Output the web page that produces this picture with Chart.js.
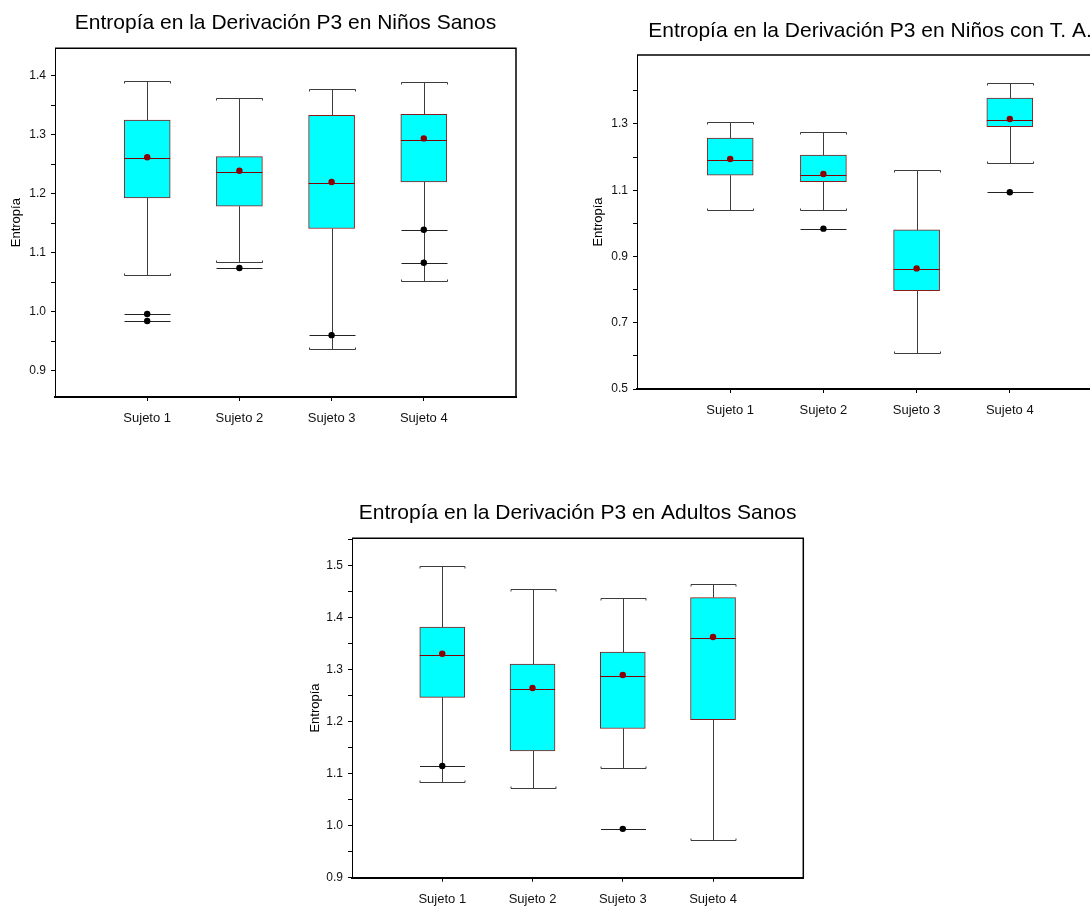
<!DOCTYPE html>
<html lang="es">
<head>
<meta charset="UTF-8">
<title>Entropía en la Derivación P3</title>
<script src="https://cdn.jsdelivr.net/npm/chart.js@4.4.1/dist/chart.umd.min.js"></script>
<style>
    html, body { margin: 0; padding: 0; background: #fff; }
    body { position: relative; width: 1090px; height: 906px; overflow: hidden; }
    canvas { position: absolute; }
</style>
</head>
<body>
<canvas id="c1"></canvas>
<canvas id="c2"></canvas>
<canvas id="c3"></canvas>

<script>
// categorias comunes
const sujetos = ['Sujeto 1', 'Sujeto 2', 'Sujeto 3', 'Sujeto 4'];

// Niños Sanos
const sanosLow     = [1.062, 1.085, 0.937, 1.052];
const sanosQ1      = [1.193, 1.179, 1.141, 1.220];
const sanosMedian  = [1.260, 1.237, 1.218, 1.292];
const sanosQ3      = [1.325, 1.263, 1.333, 1.335];
const sanosHigh    = [1.392, 1.363, 1.378, 1.390];
const sanosMean    = [1.262, 1.239, 1.220, 1.294];
const sanosOutliers = [[0.996, 0.984], [1.074], [0.960], [1.139, 1.083]];
const sanosMajor = [0.9, 1.0, 1.1, 1.2, 1.3, 1.4];
const sanosMinor = [0.95, 1.05, 1.15, 1.25, 1.35];

// Niños con T. A.
const taLow     = [1.040, 1.040, 0.610, 1.182];
const taQ1      = [1.145, 1.126, 0.797, 1.292];
const taMedian  = [1.190, 1.146, 0.861, 1.311];
const taQ3      = [1.257, 1.206, 0.980, 1.378];
const taHigh    = [1.306, 1.277, 1.161, 1.424];
const taMean    = [1.194, 1.149, 0.864, 1.315];
const taOutliers = [[], [0.984], [], [1.094]];
const taMajor = [0.5, 0.7, 0.9, 1.1, 1.3];
const taMinor = [0.6, 0.8, 1.0, 1.2, 1.4];

// Adultos Sanos
const adLow     = [1.085, 1.072, 1.111, 0.973];
const adQ1      = [1.247, 1.144, 1.187, 1.204];
const adMedian  = [1.329, 1.263, 1.288, 1.361];
const adQ3      = [1.382, 1.311, 1.334, 1.439];
const adHigh    = [1.500, 1.455, 1.438, 1.465];
const adMean    = [1.331, 1.265, 1.290, 1.363];
const adOutliers = [[1.115], [], [0.994], []];
const adMajor = [0.9, 1.0, 1.1, 1.2, 1.3, 1.4, 1.5];
const adMinor = [0.95, 1.05, 1.15, 1.25, 1.35, 1.45, 1.55];

const FONT = "'Liberation Sans', Arial, Helvetica, sans-serif";
Chart.defaults.font.family = FONT;

// bigotes, medianas y marco (dibujados con las escalas del grafico)
function boxExtras(s, boxW) {
    const half = boxW / 2;
    return {
        id: 'boxExtras',
        beforeDatasetsDraw(chart) {
            const { ctx, chartArea: a, scales: { x, y } } = chart;
            ctx.save();
            // marco superior y derecho
            ctx.strokeStyle = '#000';
            ctx.lineWidth = 1.5;
            ctx.beginPath();
            ctx.moveTo(a.left, a.top);
            ctx.lineTo(a.right, a.top);
            ctx.lineTo(a.right, a.bottom);
            ctx.stroke();

            ctx.lineWidth = 1;
            s.low.forEach((lo, i) => {
                const cx = Math.round(x.getPixelForValue(i + 1)) + 0.5;
                const l = cx - half, r = cx + half;
                const yHi = Math.round(y.getPixelForValue(s.high[i])) + 0.5;
                const yLo = Math.round(y.getPixelForValue(lo)) + 0.5;
                const yQ3 = y.getPixelForValue(s.q3[i]);
                const yQ1 = y.getPixelForValue(s.q1[i]);
                ctx.strokeStyle = '#3c3c3c';
                ctx.beginPath();
                ctx.moveTo(cx, yHi); ctx.lineTo(cx, yQ3);
                ctx.moveTo(cx, yQ1); ctx.lineTo(cx, yLo);
                // topes
                ctx.moveTo(l, yHi + 2); ctx.lineTo(l, yHi); ctx.lineTo(r, yHi); ctx.lineTo(r, yHi + 2);
                ctx.moveTo(l, yLo - 2); ctx.lineTo(l, yLo); ctx.lineTo(r, yLo); ctx.lineTo(r, yLo - 2);
                ctx.stroke();
                // lineas de valores atipicos
                ctx.strokeStyle = '#222';
                ctx.beginPath();
                s.outliers[i].forEach(v => {
                    const yo = Math.round(y.getPixelForValue(v)) + 0.5;
                    ctx.moveTo(l, yo); ctx.lineTo(r, yo);
                });
                ctx.stroke();
            });
            ctx.restore();
        },
        afterDatasetDraw(chart, args) {
            if (args.index !== 0) return;
            const { ctx, scales: { x, y } } = chart;
            ctx.save();
            ctx.strokeStyle = '#800000';
            ctx.lineWidth = 1.2;
            ctx.beginPath();
            s.median.forEach((m, i) => {
                const cx = x.getPixelForValue(i + 1);
                const ym = Math.round(y.getPixelForValue(m)) + 0.5;
                ctx.moveTo(cx - half, ym); ctx.lineTo(cx + half, ym);
            });
            ctx.stroke();
            ctx.restore();
        }
    };
}

function makePanel(id, p, s) {
    const canvas = document.getElementById(id);
    canvas.width = p.w; canvas.height = p.h;
    canvas.style.left = p.left + 'px';
    canvas.style.top = p.top + 'px';

    const xLabels = [''].concat(sujetos, ['']);
    const ticks = s.major.concat(s.minor).sort((a, b) => a - b);
    const isMajor = v => s.major.some(m => Math.abs(m - v) < 1e-6);

    return new Chart(canvas, {
        type: 'bar',
        data: {
            labels: xLabels,
            datasets: [{
                data: [null].concat(s.q1.map((q, i) => [q, s.q3[i]]), [null]),
                backgroundColor: '#00ffff',
                borderColor: '#8b1a1a',
                borderWidth: 1,
                borderSkipped: false,
                barThickness: p.boxW,
                order: 3
            }, {
                type: 'line',
                data: s.outliers.flatMap((arr, i) => arr.map(v => ({ x: sujetos[i], y: v }))),
                showLine: false,
                pointRadius: 3.2,
                pointBorderWidth: 0,
                pointBackgroundColor: '#000',
                order: 2
            }, {
                type: 'line',
                data: s.mean.map((v, i) => ({ x: sujetos[i], y: v })),
                showLine: false,
                pointRadius: 3.2,
                pointBorderWidth: 0,
                pointBackgroundColor: '#8b0000',
                order: 1
            }]
        },
        options: {
            responsive: false,
            animation: false,
            events: [],
            layout: { padding: { left: 0, top: 0, right: p.padRight, bottom: 0 } },
            plugins: {
                legend: { display: false },
                tooltip: { enabled: false },
                title: {
                    display: true,
                    text: p.title,
                    fullSize: false,
                    color: '#000',
                    font: { size: 21, weight: 'normal' },
                    padding: { top: p.titleTop, bottom: p.titleBottom }
                }
            },
            scales: {
                x: {
                    type: 'category',
                    offset: false,
                    grid: {
                        offset: false,
                        drawOnChartArea: false,
                        tickLength: 4,
                        tickColor: c => (c.index === 0 || c.index === 5) ? 'rgba(0,0,0,0)' : '#000'
                    },
                    border: { color: '#000', width: 2 },
                    ticks: { autoSkip: false, maxRotation: 0, padding: 10, color: '#111', font: { size: 13 } },
                    afterFit: sc => { sc.height = p.xH; }
                },
                y: {
                    min: p.min,
                    max: p.max,
                    afterBuildTicks: sc => { sc.ticks = ticks.map(v => ({ value: v })); },
                    grid: { drawOnChartArea: false, tickLength: 4, tickColor: '#000' },
                    border: { color: '#000', width: 1 },
                    ticks: {
                        padding: 5,
                        color: '#111',
                        font: { size: 12 },
                        callback: v => isMajor(v) ? v.toFixed(1) : ''
                    },
                    title: {
                        display: true,
                        text: 'Entropía',
                        color: '#000',
                        font: { size: 13 },
                        padding: { top: p.yTitleTop, bottom: 0 }
                    },
                    afterFit: sc => { sc.width = p.yW; }
                }
            }
        },
        plugins: [boxExtras(s, p.boxW)]
    });
}

makePanel('c1', {
    left: 0, top: 0, w: 530, h: 437, padRight: 14, xH: 40, yW: 55, yTitleTop: 9,
    titleTop: 10.6, titleBottom: 12.5, min: 0.855, max: 1.447, boxW: 46,
    title: 'Entropía en la Derivación P3 en Niños Sanos'
}, { low: sanosLow, q1: sanosQ1, median: sanosMedian, q3: sanosQ3, high: sanosHigh,
     mean: sanosMean, outliers: sanosOutliers, major: sanosMajor, minor: sanosMinor });

makePanel('c2', {
    left: 570, top: 0, w: 545, h: 429, padRight: 12, xH: 40, yW: 67, yTitleTop: 20.5,
    titleTop: 18.9, titleBottom: 10.9, min: 0.5, max: 1.508, boxW: 46,
    title: 'Entropía en la Derivación P3 en Niños con T. A.'
}, { low: taLow, q1: taQ1, median: taMedian, q3: taQ3, high: taHigh,
     mean: taMean, outliers: taOutliers, major: taMajor, minor: taMinor });

makePanel('c3', {
    left: 290, top: 490, w: 530, h: 428, padRight: 16.7, xH: 40.3, yW: 62, yTitleTop: 17.2,
    titleTop: 10.6, titleBottom: 12.5, min: 0.9, max: 1.553, boxW: 45,
    title: 'Entropía en la Derivación P3 en Adultos Sanos'
}, { low: adLow, q1: adQ1, median: adMedian, q3: adQ3, high: adHigh,
     mean: adMean, outliers: adOutliers, major: adMajor, minor: adMinor });
</script>
</body>
</html>
